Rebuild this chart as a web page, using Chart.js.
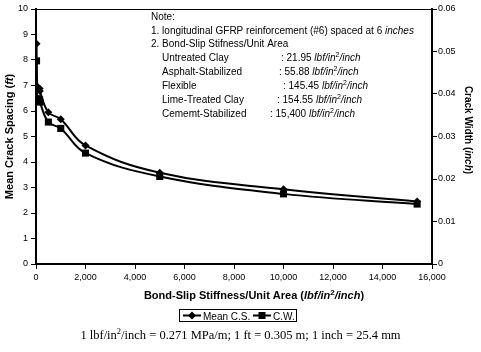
<!DOCTYPE html>
<html>
<head>
<meta charset="utf-8">
<script src="https://cdn.jsdelivr.net/npm/chart.js@4"></script>
<style>
    html, body { margin: 0; padding: 0; background: #fff; }
    #wrap { position: relative; width: 481px; height: 352px; }
    #footnote {
        position: absolute; left: 0; top: 328px; width: 481px;
        text-align: center; font-family: "Liberation Serif", "Times New Roman", serif;
        font-size: 12.5px; color: #000;
    }
    #footnote sup { font-size: 8.5px; vertical-align: 5px; line-height: 0; }
</style>
</head>
<body>
<div id="wrap">
    <canvas id="chart" width="481" height="352"></canvas>
    <div id="footnote">1 lbf/in<sup>2</sup>/inch = 0.271 MPa/m; 1 ft = 0.305 m; 1 inch = 25.4 mm</div>
</div>
<script>
    'use strict';

    // ============================================================================
    // DATA
    // ============================================================================

    var stiffness = [21.95, 55.88, 145.45, 154.55, 500, 1000, 2000, 5000, 10000, 15400];
    var meanCrackSpacing = [8.64, 6.95, 6.88, 6.78, 5.95, 5.68, 4.65, 3.58, 2.93, 2.45];
    var crackWidth = [0.0478, 0.0389, 0.0386, 0.0381, 0.0334, 0.0319, 0.0261, 0.0206, 0.0165, 0.0141];

    var seriesLabels = ['Mean C.S.', 'C.W.'];

    var noteSoils = ['Untreated Clay', 'Asphalt-Stabilized', 'Flexible', 'Lime-Treated Clay', 'Cememt-Stabilized'];
    var noteValues = ['21.95', '55.88', '145.45', '154.55', '15,400'];

    // ============================================================================
    // HELPERS
    // ============================================================================

    var SANS = '"Liberation Sans", Arial, sans-serif';

    function font(size, bold, italic) {
        return (italic ? 'italic ' : '') + (bold ? 'bold ' : '') + size + 'px ' + SANS;
    }

    // draw a run of segments {t, f, sup} starting at x (or centred), baseline y
    function drawRuns(ctx, runs, x, y, centre) {
        var total = 0;
        runs.forEach(function(r) { ctx.font = r.f; total += ctx.measureText(r.t).width; });
        var cx = centre ? x - total / 2 : x;
        ctx.textBaseline = 'alphabetic';
        ctx.textAlign = 'left';
        runs.forEach(function(r) {
            ctx.font = r.f;
            ctx.fillText(r.t, cx, r.sup ? y - 4 : y);
            cx += ctx.measureText(r.t).width;
        });
    }

    function unitRuns(size, bold) {
        return [
            { t: 'lbf/in', f: font(size, bold, true) },
            { t: '2', f: font(size - 3, bold, false), sup: true },
            { t: '/inch', f: font(size, bold, true) }
        ];
    }

    function drawMarker(ctx, style, x, y) {
        ctx.beginPath();
        if (style === 'rectRot') {
            ctx.moveTo(x, y - 4); ctx.lineTo(x + 4, y); ctx.lineTo(x, y + 4); ctx.lineTo(x - 4, y);
        } else {
            ctx.rect(x - 3.5, y - 3.5, 7, 7);
        }
        ctx.closePath();
        ctx.fill();
    }

    // ============================================================================
    // DECORATION PLUGIN (note, axis titles, legend, frame)
    // ============================================================================

    var decorPlugin = {
        id: 'decor',
        afterDraw: function(chart) {
            var ctx = chart.ctx;
            var a = chart.chartArea;
            ctx.save();
            ctx.fillStyle = '#000';
            ctx.strokeStyle = '#000';

            // top frame line
            ctx.lineWidth = 1;
            ctx.beginPath();
            ctx.moveTo(a.left, a.top + 0.5);
            ctx.lineTo(a.right, a.top + 0.5);
            ctx.stroke();

            // note
            var fs = 10;
            drawRuns(ctx, [{ t: 'Note:', f: font(fs) }], 151, 20);
            drawRuns(ctx, [
                { t: '1. longitudinal GFRP reinforcement (#6) spaced at 6 ', f: font(fs) },
                { t: 'inches', f: font(fs, false, true) }
            ], 151, 34);
            drawRuns(ctx, [{ t: '2. Bond-Slip Stifness/Unit Area', f: font(fs) }], 151, 47);
            var rowY = [61, 75, 89, 103, 117];
            var valX = [281, 279, 283, 277, 270];
            noteSoils.forEach(function(s, i) {
                drawRuns(ctx, [{ t: s, f: font(fs) }], 162, rowY[i]);
                drawRuns(ctx, [{ t: ': ' + noteValues[i] + ' ', f: font(fs) }].concat(unitRuns(fs)), valX[i], rowY[i]);
            });

            // x axis title
            drawRuns(ctx, [{ t: 'Bond-Slip Stiffness/Unit Area (', f: font(11, true) }]
                .concat(unitRuns(11, true))
                .concat([{ t: ')', f: font(11, true) }]), 254, 299, true);

            // left axis title
            ctx.save();
            ctx.translate(13, (a.top + a.bottom) / 2);
            ctx.rotate(-Math.PI / 2);
            drawRuns(ctx, [
                { t: 'Mean Crack Spacing (', f: font(11, true) },
                { t: 'ft', f: font(11, true, true) },
                { t: ')', f: font(11, true) }
            ], 0, 0, true);
            ctx.restore();

            // right axis title
            ctx.save();
            ctx.translate(465, 130);
            ctx.rotate(Math.PI / 2);
            drawRuns(ctx, [
                { t: 'Crack Width (', f: font(10, true) },
                { t: 'inch', f: font(10, true, true) },
                { t: ')', f: font(10, true) }
            ], 0, 0, true);
            ctx.restore();

            // legend
            ctx.lineWidth = 1;
            ctx.strokeRect(179.5, 309.5, 117, 12);
            var styles = ['rectRot', 'rect'];
            var lx = [183, 253];
            seriesLabels.forEach(function(lbl, i) {
                ctx.lineWidth = 2;
                ctx.beginPath();
                ctx.moveTo(lx[i], 315.5);
                ctx.lineTo(lx[i] + 18, 315.5);
                ctx.stroke();
                drawMarker(ctx, styles[i], lx[i] + 9, 315.5);
                drawRuns(ctx, [{ t: lbl, f: font(10) }], lx[i] + 20, 319.5);
            });

            ctx.restore();
        }
    };

    // ============================================================================
    // CHART
    // ============================================================================

    function toPoints(xs, ys) {
        return xs.map(function(x, i) { return { x: x, y: ys[i] }; });
    }

    function axisGrid() {
        return { drawOnChartArea: false, drawTicks: true, tickLength: 5, color: '#000', lineWidth: 1 };
    }

    var tickFont = { family: SANS, size: 9 };

    new Chart(document.getElementById('chart'), {
        type: 'scatter',
        data: {
            datasets: [{
                label: seriesLabels[0],
                data: toPoints(stiffness, meanCrackSpacing),
                yAxisID: 'y',
                showLine: true,
                borderColor: '#000',
                backgroundColor: '#000',
                borderWidth: 2,
                tension: 0.4,
                pointStyle: 'rectRot',
                pointRadius: 4,
                pointBorderWidth: 0
            }, {
                label: seriesLabels[1],
                data: toPoints(stiffness, crackWidth),
                yAxisID: 'y1',
                showLine: true,
                borderColor: '#000',
                backgroundColor: '#000',
                borderWidth: 2,
                tension: 0.4,
                pointStyle: 'rect',
                pointRadius: 5,
                pointBorderWidth: 0
            }]
        },
        options: {
            responsive: false,
            animation: false,
            layout: { padding: { top: 9, left: 0, right: 0, bottom: 0 } },
            plugins: {
                legend: { display: false },
                tooltip: { enabled: false }
            },
            scales: {
                x: {
                    type: 'linear',
                    min: 0,
                    max: 16000,
                    ticks: {
                        stepSize: 2000,
                        color: '#000',
                        font: tickFont,
                        padding: 3,
                        maxRotation: 0,
                        callback: function(v) { return v.toLocaleString('en-US'); }
                    },
                    grid: axisGrid(),
                    border: { color: '#000', width: 2 },
                    afterFit: function(s) { s.height = 88; }
                },
                y: {
                    position: 'left',
                    min: 0,
                    max: 10,
                    ticks: { stepSize: 1, color: '#000', font: tickFont, padding: 3 },
                    grid: axisGrid(),
                    border: { color: '#000', width: 2 },
                    afterFit: function(s) { s.width = 36; }
                },
                y1: {
                    position: 'right',
                    min: 0,
                    max: 0.06,
                    ticks: {
                        stepSize: 0.01,
                        color: '#000',
                        font: tickFont,
                        padding: 1,
                        callback: function(v) { return v === 0 ? '0' : v.toFixed(2); }
                    },
                    grid: axisGrid(),
                    border: { color: '#000', width: 2 },
                    afterFit: function(s) { s.width = 49; }
                }
            }
        },
        plugins: [decorPlugin]
    });
</script>
</body>
</html>
